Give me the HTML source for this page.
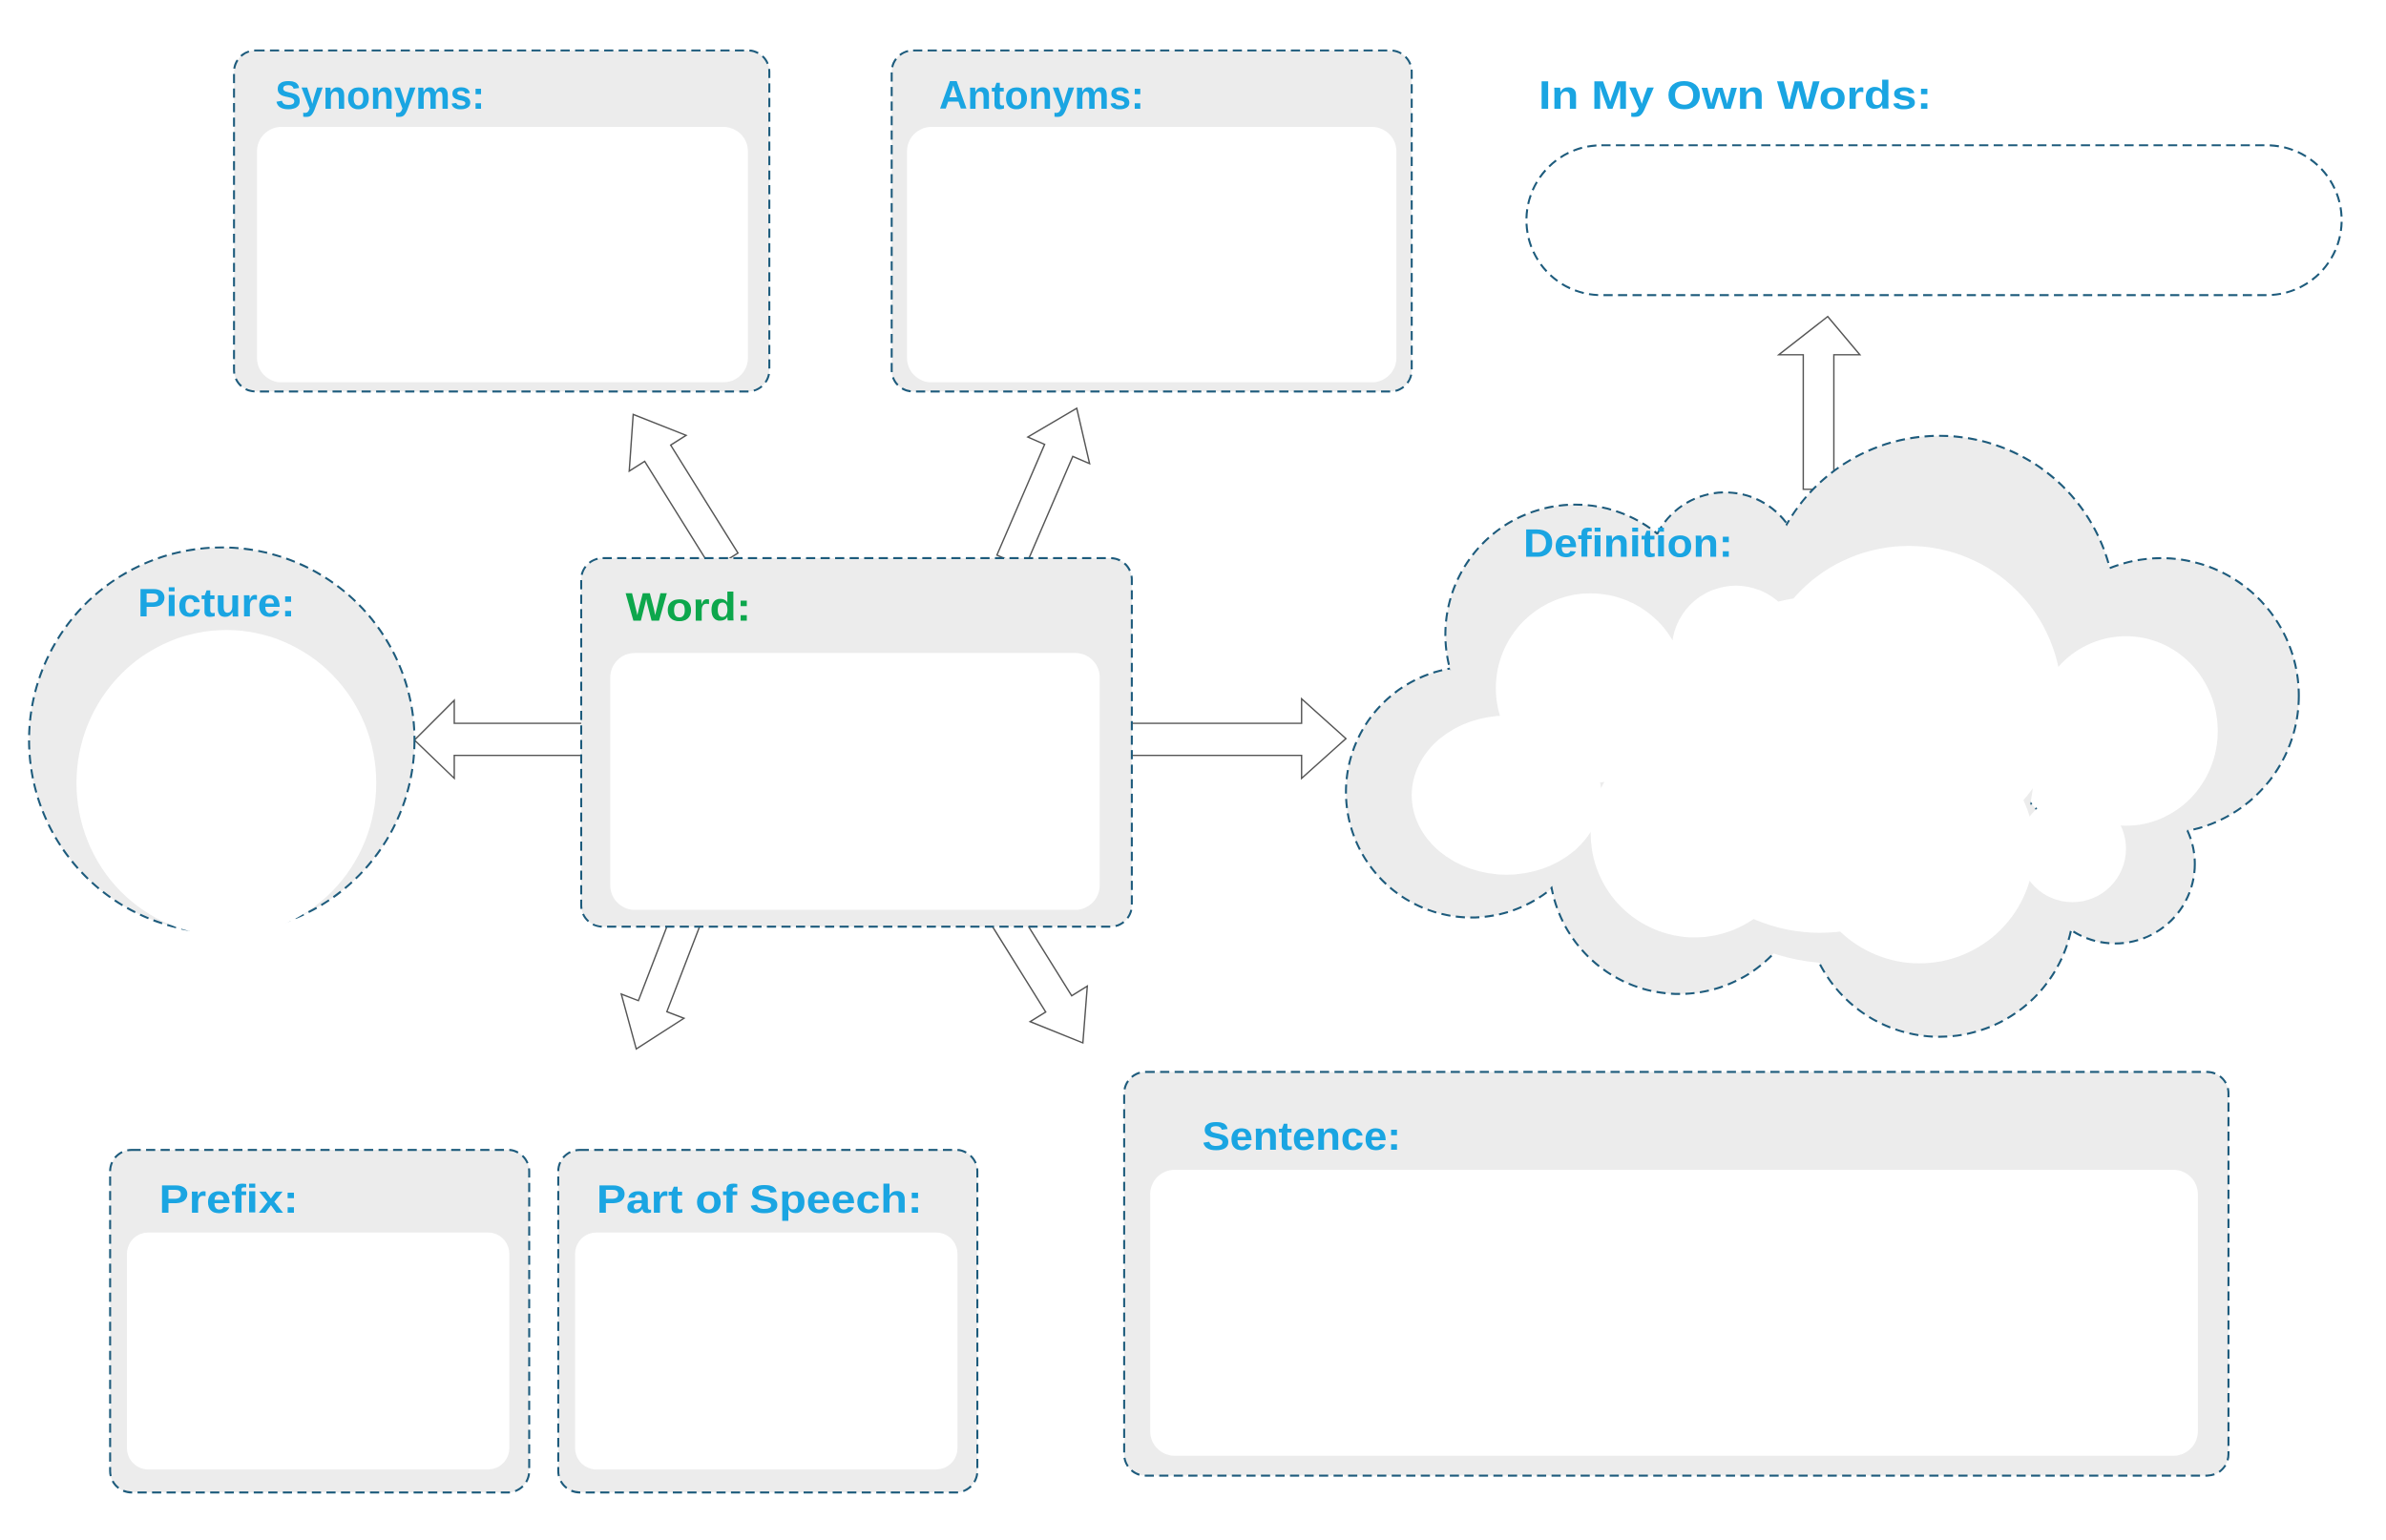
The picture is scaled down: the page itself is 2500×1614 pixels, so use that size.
<!DOCTYPE html>
<html><head><meta charset="utf-8"><style>
html,body{margin:0;padding:0;background:#fff}
svg{display:block}
text{font-family:"Liberation Sans",sans-serif;font-weight:bold;font-size:26px;fill:#1aa5e2}
</style></head><body>
<svg width="2500" height="1614" viewBox="0 0 1560 1007.1" preserveAspectRatio="none" xmlns="http://www.w3.org/2000/svg">
<g fill="#fff" stroke="#555" stroke-width="0.9" stroke-linejoin="miter">
<!-- arrows -->
<polygon points="482.5,361.7 438.5,291.1 448.6,284.7 414,271 411.4,308.1 421.5,301.7 465.5,372.3"/>
<polygon points="670.2,371 701.4,298.5 712.4,303.2 704,267 672,285.8 683,290.6 651.8,363"/>
<polygon points="458.3,603.6 436,661.6 447.2,665.9 416,686 406.2,650.1 417.4,654.4 439.7,596.4"/>
<polygon points="648.5,605.3 683.7,661.8 673.5,668.1 708,682 710.9,644.9 700.7,651.2 665.5,594.7"/>
<polygon points="385,473 297,473 297,458 271,484 297,509 297,494 385,494"/>
<polygon points="735,473 851,473 851,457 880,483 851,509 851,494 735,494"/>
<polygon points="1179,320 1179,232 1163,232 1195,207 1216,232 1199,232 1199,320"/>
</g>
<g stroke="#1d5b7c" stroke-width="1.3" stroke-dasharray="6 3.5">
<rect x="153" y="33" width="350" height="223" rx="14" fill="#ececec"/>
<rect x="583" y="33" width="340" height="223" rx="14" fill="#ececec"/>
<rect x="998" y="95" width="533" height="98" rx="49" fill="#fff"/>
<ellipse cx="145" cy="484" rx="126" ry="126" fill="#ececec"/>
<rect x="380" y="365" width="360" height="241" rx="14" fill="#ececec"/>
<rect x="72" y="752" width="274" height="224" rx="14" fill="#ececec"/>
<rect x="365" y="752" width="274" height="224" rx="14" fill="#ececec"/>
<rect x="735" y="701" width="722" height="264" rx="14" fill="#ececec"/>
</g>
<g fill="#fff">
<rect x="168" y="83" width="321" height="167" rx="16"/>
<rect x="593" y="83" width="320" height="167" rx="16"/>
<ellipse cx="148" cy="512" rx="98" ry="100"/>
<rect x="399" y="427" width="320" height="168" rx="16"/>
<rect x="83" y="806" width="250" height="155" rx="14"/>
<rect x="376" y="806" width="250" height="155" rx="14"/>
<rect x="752" y="765" width="685" height="187" rx="16"/>
</g>
<!-- cloud -->
<g fill="#ececec" stroke="#1d5b7c" stroke-width="1.3" stroke-dasharray="6 3.5">
<circle cx="962" cy="518" r="82"/><circle cx="1030" cy="415" r="85"/><circle cx="1128" cy="372" r="50"/>
<circle cx="1268" cy="400" r="115"/><circle cx="1413" cy="455" r="90"/><circle cx="1383" cy="565" r="52"/>
<circle cx="1268" cy="590" r="88"/><circle cx="1098" cy="565" r="85"/>
</g>
<g fill="#ececec">
<circle cx="962" cy="518" r="81"/><circle cx="1030" cy="415" r="84"/><circle cx="1128" cy="372" r="49"/>
<circle cx="1268" cy="400" r="114"/><circle cx="1413" cy="455" r="89"/><circle cx="1383" cy="565" r="51"/>
<circle cx="1268" cy="590" r="87"/><circle cx="1098" cy="565" r="84"/><circle cx="1200" cy="500" r="130"/>
</g>
<g fill="#fff">
<circle cx="1040" cy="450" r="62"/><circle cx="1135" cy="425" r="42"/><circle cx="1248" cy="457" r="100"/>
<ellipse cx="1390" cy="478" rx="60" ry="62"/><ellipse cx="985" cy="520" rx="62" ry="52"/><circle cx="1108" cy="545" r="68"/>
<circle cx="1255" cy="555" r="75"/><circle cx="1355" cy="555" r="35"/><circle cx="1190" cy="500" r="110"/>
</g>
<!-- labels -->
<text x="180" y="71" textLength="137" lengthAdjust="spacingAndGlyphs">Synonyms:</text>
<text x="614" y="71" textLength="134" lengthAdjust="spacingAndGlyphs">Antonyms:</text>
<text x="1006" y="71" textLength="257" lengthAdjust="spacingAndGlyphs">In My Own Words:</text>
<text x="996" y="364" textLength="137" lengthAdjust="spacingAndGlyphs">Definition:</text>
<text x="90" y="403" textLength="103" lengthAdjust="spacingAndGlyphs">Picture:</text>
<text x="409" y="406" textLength="82" lengthAdjust="spacingAndGlyphs" style="fill:#0da74c">Word:</text>
<text x="104" y="793" textLength="91" lengthAdjust="spacingAndGlyphs">Prefix:</text>
<text x="390" y="793" textLength="213" lengthAdjust="spacingAndGlyphs">Part of Speech:</text>
<text x="786" y="752" textLength="130" lengthAdjust="spacingAndGlyphs">Sentence:</text>
</svg>
</body></html>
